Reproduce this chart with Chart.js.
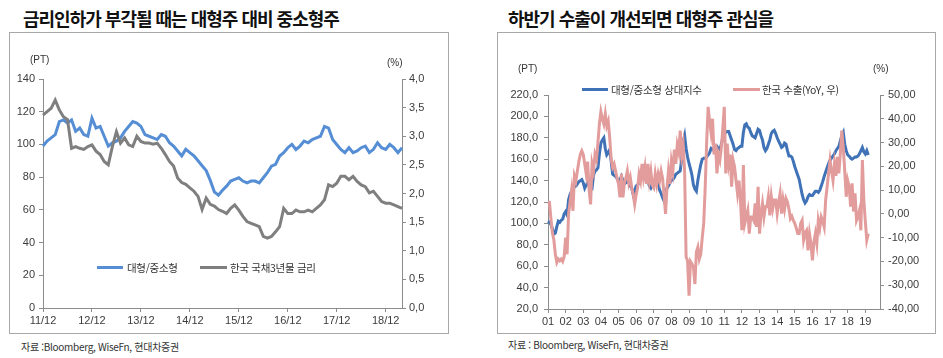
<!DOCTYPE html>
<html lang="ko">
<head>
<meta charset="utf-8">
<script src="https://cdn.jsdelivr.net/npm/chart.js@4.4.1/dist/chart.umd.min.js"></script>
<style>
  html, body { margin: 0; padding: 0; background: #fff; }
  body { position: relative; width: 943px; height: 358px; overflow: hidden;
         font-family: "Noto Sans CJK KR", "Noto Sans", sans-serif; color: #222; }
  .abs { position: absolute; white-space: nowrap; }
  .title { font-size: 18px; font-weight: 700; line-height: 20px; letter-spacing: -1px; color: #111; }
  .box { border: 1px solid #a8a8a8; box-sizing: border-box; }
  .unit { font-family: "Liberation Sans", Arial, sans-serif; font-size: 10px; line-height: 12px; color: #333; }
  .src { font-size: 10px; line-height: 12px; color: #333; letter-spacing: -0.3px; }
  .lg { font-size: 10.5px; line-height: 14px; color: #333; letter-spacing: -0.3px; }
  .sw { height: 3px; }
  canvas { position: absolute; }
</style>
</head>
<body>
<div class="abs title" style="left:23px;top:8px">금리인하가 부각될 때는 대형주 대비 중소형주</div>
<div class="abs title" style="left:508px;top:8px">하반기 수출이 개선되면 대형주 관심을</div>

<div class="abs box" style="left:9px;top:32px;width:440px;height:302px"></div>
<div class="abs box" style="left:497px;top:32px;width:439px;height:302px"></div>

<canvas id="chart-left" width="437" height="300" style="left:10px;top:33px"></canvas>
<canvas id="chart-right" width="437" height="300" style="left:498px;top:33px"></canvas>

<div class="abs unit" style="left:30px;top:54px">(PT)</div>
<div class="abs unit" style="left:387px;top:57px">(%)</div>
<div class="abs unit" style="left:518px;top:63px">(PT)</div>
<div class="abs unit" style="left:873px;top:63px">(%)</div>

<div class="abs sw" style="left:97px;top:266px;width:26px;background:#558ed5"></div>
<div class="abs lg" style="left:127px;top:261px">대형/중소형</div>
<div class="abs sw" style="left:200px;top:266px;width:27px;background:#7f7f7f"></div>
<div class="abs lg" style="left:230px;top:261px">한국 국채3년물 금리</div>

<div class="abs sw" style="left:582px;top:88px;width:26px;background:#3f72b6"></div>
<div class="abs lg" style="left:611px;top:83px">대형/중소형 상대지수</div>
<div class="abs sw" style="left:733px;top:88px;width:27px;background:#e29c9b"></div>
<div class="abs lg" style="left:762px;top:83px">한국 수출(YoY, 우)</div>

<div class="abs src" style="left:21px;top:341px">자료 :Bloomberg, WiseFn, 현대차증권</div>
<div class="abs src" style="left:508px;top:339px">자료 : Bloomberg, WiseFn, 현대차증권</div>

<script>
// left chart: monthly, 2011/12 .. 2019/04
const leftRelative = [
  99, 102, 104, 106, 114, 115, 113, 115, 108, 110, 106, 105,
  116, 110, 111, 105, 99, 101, 102, 104, 108, 111, 114, 113,
  111, 106, 105, 104, 103, 106, 105, 101, 99, 96, 93, 97,
  95, 93, 90, 87, 84, 78, 71, 69, 72, 74.5, 77.6, 78.6,
  79.6, 77.6, 76.5, 77.6, 77.6, 76.5, 79.6, 82.7, 86.7, 87.8, 92.9, 94.9,
  98, 100, 96.9, 99, 102, 101, 103, 104, 105, 111, 110, 103,
  100, 97, 95, 98, 95, 96, 98, 99, 95, 97, 101, 98,
  97, 100, 98, 95, 98
];
const leftBond3y = [
  3.37, 3.43, 3.49, 3.63, 3.46, 3.34, 3.29, 2.79, 2.82, 2.79, 2.77, 2.82,
  2.85, 2.74, 2.68, 2.56, 2.50, 2.82, 3.08, 2.88, 2.97, 2.85, 2.82, 3.00,
  2.91, 2.88, 2.88, 2.86, 2.88, 2.79, 2.68, 2.56, 2.48, 2.27, 2.19, 2.16,
  2.10, 2.04, 1.95, 1.72, 1.92, 1.81, 1.78, 1.72, 1.69, 1.65, 1.74, 1.80,
  1.71, 1.60, 1.51, 1.48, 1.45, 1.42, 1.25, 1.22, 1.25, 1.33, 1.42, 1.74,
  1.65, 1.65, 1.71, 1.68, 1.68, 1.71, 1.68, 1.74, 1.80, 1.89, 2.15, 2.12,
  2.18, 2.30, 2.30, 2.24, 2.30, 2.21, 2.15, 2.12, 2.01, 2.04, 1.95, 1.86,
  1.83, 1.83, 1.80, 1.77, 1.74
];

// right chart: monthly, 2001/01 .. 2019/03
const rightRelative = [
  102, 101, 99, 95, 90, 91, 97, 102, 101, 103, 104, 109,
  111, 108, 122, 127, 130, 133, 134, 135, 137, 139, 140, 141,
  138, 133, 136, 138, 135, 134, 133, 145, 149, 150, 152, 165,
  175, 178, 180, 170, 164, 166, 169, 158, 146, 145, 144, 142,
  139, 141, 144, 140, 137, 138, 141, 138, 135, 133, 127, 130,
  135, 136, 138, 140, 147, 152, 149, 146, 140, 135, 133, 136,
  139, 140, 142, 137, 131, 128, 124, 121, 127, 133, 135, 138,
  140, 141, 143, 146, 147, 148, 149, 160, 176, 182, 170, 162,
  156, 151, 145, 136, 132, 130, 140, 148, 155, 160, 161, 161,
  162, 164, 166, 170, 169, 170, 171, 172, 170, 169, 174, 180,
  184, 185, 186, 186, 182, 178, 174, 169, 168, 170, 171, 172,
  172, 185, 192, 193, 190, 189, 185, 182, 181, 180, 184, 188,
  187, 182, 178, 171, 168, 170, 174, 178, 184, 186, 187, 184,
  180, 177, 174, 171, 172, 175, 174, 168, 163, 163, 162, 158,
  153, 149, 145, 141, 134, 127, 122, 119, 121, 125, 127, 126,
  126, 128, 130, 130, 129, 131, 135, 139, 144, 148, 152, 156,
  159, 161, 163, 165, 168, 170, 172, 177, 182, 185, 174, 168,
  164, 163, 161, 160, 161, 162, 162, 163, 165, 168, 171, 167,
  165, 168, 164
];
const rightExportYoY = [
  5, 4.8, -2, -8, -11, -17, -20.4, -19, -19.7, -19, -20, -18,
  -10, -17, 0, 5, 9.7, 1.3, 16, 14, 18, 22, 25, 26.5,
  25, 21, 16.8, 22, 10, 4, 21, 18, 25, 23, 30, 38,
  43, 40, 37.8, 42, 37, 39, 32, 23, 19.6, 21, 18, 15,
  12.6, 7, 16.8, 7, 13, 15, 18, 13, 15.4, 11, 8.3, 4,
  8, 11, 16.8, 14, 21, 15.4, 19.6, 12.6, 21, 14, 18, 12,
  11, 16.8, 12.6, 16.8, 14, 18, 15, 8, 0, 11, 18, 12.6,
  22, 18, 27, 21, 29, 26, 35, 25, 29, 18, -18, -19.7,
  -34.4, -20, -21, -22.5, -29.5, -16, -14, -19, -17, -10, -4, 11,
  30, 45, 39, 34, 40, 25, 29.6, 17, 25, 22.6, 28, 36,
  45, 17, 29.6, 21, 25, 11.4, 22.6, 19.8, 14, 8.6, 14, 5.8,
  -6.9, 20.5, -4, -1.3, 1.5, -8.3, -1.3, -1.3, -2.7, 4.4, -5.5, 11.4,
  -8.3, 0.1, 4.4, -1.3, 3, 3, 7.2, -0.6, 7.2, 2.3, 5.8, 5.8,
  0.1, 5, 8.6, 0.1, 6, 2, 6.5, 5, 2, -2, -1, -2.7,
  -4, -6, -8.3, -8.3, -4, -2.7, -11, -8, -7, -15.3, -8.3, -12.5,
  -19.5, -12, -8.3, -12.5, -2.7, -6, -1.3, -3, -5.5, 5.8, 11.4, 17,
  22.6, 18, 14, 21, 16, 24, 17, 25.4, 35, 28, 18, 7.2,
  14, 11.4, 3, 12.8, 1, 8.6, -2.7, -1, 1.5, -6.9, 22.6, 5.8,
  -3, -11, -8.3
];

// month labels 'YY/MM'
function months(year, month, n) {
  const out = [];
  for (let i = 0; i < n; i++) {
    out.push(String(year % 100).padStart(2, '0') + '/' + String(month).padStart(2, '0'));
    month++;
    if (month > 12) { month = 1; year++; }
  }
  return out;
}
const leftMonths = months(2011, 12, 89);
const rightMonths = months(2001, 1, 227); // axis runs a bit past the data

(function () {
  if (typeof Chart === 'undefined') return;

  const C = {
    lblue: '#558ed5',
    gray: '#7f7f7f',
    dblue: '#3f72b6',
    pink: '#e29c9b',
    axis: '#8c8c8c',
    text: '#3c3c3c',
  };
  const tickFont = { family: '"Liberation Sans", Arial, sans-serif', size: 11 };
  Chart.defaults.color = C.text;

  const comma = (d) => (v) => Number(v).toFixed(d).replace('.', ',');
  const axisGrid = { drawOnChartArea: false, drawTicks: true, tickLength: 4, color: C.axis };
  const axisBorder = { color: C.axis, width: 1 };
  const line = (data, color, axis) => ({
    data, borderColor: color, borderWidth: 3, pointRadius: 0,
    tension: 0, fill: false, yAxisID: axis,
  });
  const base = {
    responsive: false,
    animation: false,
    plugins: { legend: { display: false }, tooltip: { enabled: false } },
  };

  // left — relative index vs 3y KTB yield
  new Chart(document.getElementById('chart-left'), {
    type: 'line',
    data: {
      labels: leftMonths,
      datasets: [
        line(leftBond3y, C.gray, 'y1'),
        line(leftRelative, C.lblue, 'y'),
      ],
    },
    options: {
      ...base,
      layout: { padding: { top: 46, left: 0, right: 0, bottom: 0 } },
      scales: {
        x: {
          offset: false, grid: axisGrid, border: axisBorder,
          ticks: {
            autoSkip: false, maxRotation: 0, padding: 2, font: tickFont,
            callback: (v, i) => (leftMonths[i].endsWith('/12') ? leftMonths[i] : null),
          },
          afterFit: (s) => { s.height = 25; },
        },
        y: {
          position: 'left', min: 0, max: 140, grid: axisGrid, border: axisBorder,
          ticks: { stepSize: 20, padding: 4, font: tickFont },
          afterFit: (s) => { s.width = 33; },
        },
        y1: {
          position: 'right', min: 0, max: 4, grid: axisGrid, border: axisBorder,
          ticks: { stepSize: 0.5, padding: 3, font: tickFont, callback: comma(1) },
          afterFit: (s) => { s.width = 45; },
        },
      },
    },
  });

  // right — relative index vs Korean exports YoY
  new Chart(document.getElementById('chart-right'), {
    type: 'line',
    data: {
      labels: rightMonths,
      datasets: [
        line(rightExportYoY, C.pink, 'y1'),
        line(rightRelative, C.dblue, 'y'),
      ],
    },
    options: {
      ...base,
      layout: { padding: { top: 62, left: 0, right: 0, bottom: 0 } },
      scales: {
        x: {
          offset: false, grid: axisGrid, border: axisBorder,
          ticks: {
            autoSkip: false, maxRotation: 0, padding: 2, font: tickFont,
            callback: (v, i) => (rightMonths[i].endsWith('/01') ? rightMonths[i].slice(0, 2) : null),
          },
          afterFit: (s) => { s.height = 24; },
        },
        y: {
          position: 'left', min: 20, max: 220, grid: axisGrid, border: axisBorder,
          ticks: { stepSize: 20, padding: 6, font: tickFont, callback: comma(1) },
          afterFit: (s) => { s.width = 50; },
        },
        y1: {
          position: 'right', min: -40, max: 50, grid: axisGrid, border: axisBorder,
          ticks: { stepSize: 10, padding: 4, font: tickFont, callback: comma(2) },
          afterFit: (s) => { s.width = 55; },
        },
      },
    },
  });
})();
</script>
</body>
</html>
